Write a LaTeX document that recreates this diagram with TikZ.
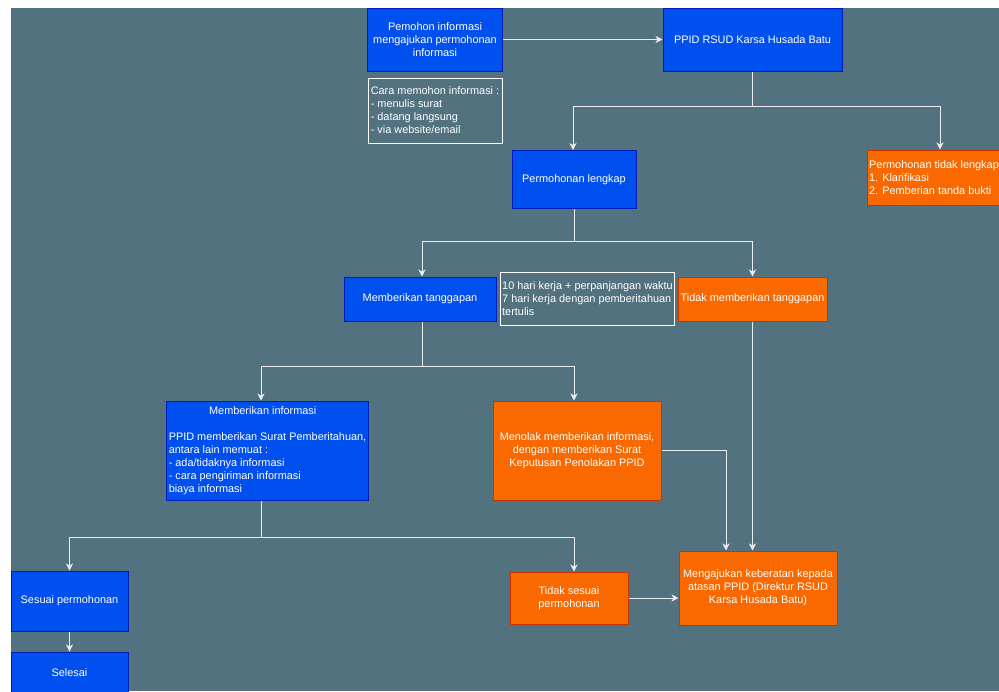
\documentclass[tikz,border=0pt]{standalone}
\usepackage{fontspec}
\setmainfont{Liberation Sans}
\usetikzlibrary{arrows.meta}

\definecolor{latar}{RGB}{83,114,128}
\definecolor{biru}{HTML}{0050EF}
\definecolor{birugaris}{HTML}{001DBC}
\definecolor{oranye}{HTML}{FA6800}
\definecolor{oranyegaris}{HTML}{C73500}
\definecolor{garis}{RGB}{236,236,236}

\tikzset{
	kotak/.style={rectangle, draw, line width=1pt, text=white, inner sep=2pt, font=\fontsize{10.9}{13}\selectfont},
	biruk/.style={kotak, fill=biru, draw=birugaris},
	oranyek/.style={kotak, fill=oranye, draw=oranyegaris},
	catatan/.style={kotak, draw=white, align=left},
	panah/.style={draw=garis, line width=1pt, -{Stealth[length=7pt,width=7pt,inset=2pt]}}
}

\begin{document}
\begin{tikzpicture}[x=1pt, y=-1pt]
			\useasboundingbox (0,0) rectangle (999,691);
			\fill[white] (0,0) rectangle (999,691);
			\fill[latar] (11,8) rectangle (999,691);

			\node[biruk, align=center, minimum width=135pt, minimum height=63pt] at (435,39.5) (pemohon) {Pemohon informasi\\mengajukan permohonan\\informasi};
			\node[catatan, minimum width=134pt, minimum height=65pt] at (435,110.5) (cara) {Cara memohon informasi :\\- menulis surat\\- datang langsung\\- via website/email};
			\node[biruk, minimum width=179pt, minimum height=63pt] at (752.5,39.5) (ppid) {PPID RSUD Karsa Husada Batu};
			\node[biruk, minimum width=124pt, minimum height=58pt] at (574,179.5) (lengkap) {Permohonan lengkap};
			\node[oranyek, align=left, minimum width=132pt, minimum height=55pt] at (934,177.5) (tidaklengkap) {Permohonan tidak lengkap\\1. Klarifikasi\\2. Pemberian tanda bukti};
			\node[biruk, minimum width=152pt, minimum height=44pt] at (420,299) (tanggapan) {Memberikan tanggapan};
			\node[catatan, minimum width=171pt, minimum height=53pt] at (587.5,298.5) (waktu) {10 hari kerja + perpanjangan waktu\\7 hari kerja dengan pemberitahuan\\tertulis};
			\node[oranyek, minimum width=149pt, minimum height=44pt] at (752.5,299) (tidaktanggapan) {Tidak memberikan tanggapan};
			\node[biruk, align=left, minimum width=201pt, minimum height=99pt] at (267.5,450.5) (informasi) {\makebox[188pt]{Memberikan informasi}\\[13pt]PPID memberikan Surat Pemberitahuan,\\antara lain memuat :\\- ada/tidaknya informasi\\- cara pengiriman informasi\\biaya informasi};
			\node[oranyek, align=center, minimum width=168pt, minimum height=99pt] at (577,450.5) (menolak) {Menolak memberikan informasi,\\dengan memberikan Surat\\Keputusan Penolakan PPID};
			\node[oranyek, align=center, minimum width=158pt, minimum height=74pt] at (758,588) (keberatan) {Mengajukan keberatan kepada\\atasan PPID (Direktur RSUD\\Karsa Husada Batu)};
			\node[biruk, minimum width=117pt, minimum height=60pt] at (69.5,601) (sesuai) {Sesuai permohonan};
			\node[oranyek, align=center, minimum width=118pt, minimum height=52pt] at (569,598) (tidaksesuai) {Tidak sesuai\\permohonan};
			\node[biruk, minimum width=117pt, minimum height=42pt] at (69.5,673) (selesai) {Selesai};

			\draw[panah] (pemohon.east) -- (ppid.west);
			\draw[panah] (ppid.south) -- ++(0,35) -| ([xshift=-1pt]lengkap.north);
			\draw[panah] (ppid.south) -- ++(0,35) -| ([xshift=6pt]tidaklengkap.north);
			\draw[panah] (lengkap.south) -- ++(0,32) -| ([xshift=2pt]tanggapan.north);
			\draw[panah] (lengkap.south) -- ++(0,32) -| (tidaktanggapan.north);
			\draw[panah] ([xshift=2pt]tanggapan.south) -- ++(0,45) -| ([xshift=-6.5pt]informasi.north);
			\draw[panah] ([xshift=2pt]tanggapan.south) -- ++(0,45) -| ([xshift=-3pt]menolak.north);
			\draw[panah] ([xshift=-6.5pt]informasi.south) -- ++(0,37) -| (sesuai.north);
			\draw[panah] ([xshift=-6.5pt]informasi.south) -- ++(0,37) -| ([xshift=5pt]tidaksesuai.north);
			\draw[panah] (sesuai.south) -- (selesai.north);
			\draw[panah] (tidaksesuai.east) -- (tidaksesuai.east -| keberatan.west);
			\draw[panah] (menolak.east) -| ([xshift=-32pt]keberatan.north);
			\draw[panah] (tidaktanggapan.south) -- (tidaktanggapan.south |- keberatan.north);
\end{tikzpicture}
\end{document}
